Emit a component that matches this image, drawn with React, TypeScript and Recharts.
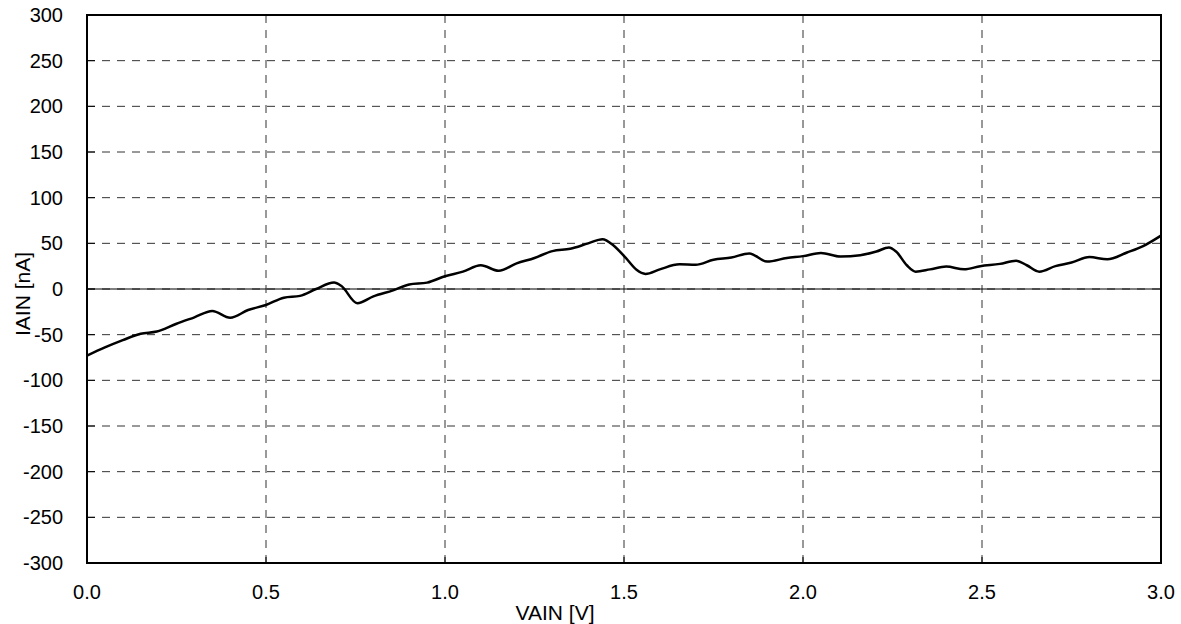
import React from 'react';
import {
  LineChart,
  Line,
  XAxis,
  YAxis,
  CartesianGrid,
  ReferenceLine,
  ReferenceArea,
} from 'recharts';

const vain = [
  0.0, 0.05, 0.1, 0.15, 0.195, 0.25, 0.3, 0.35, 0.4, 0.45, 0.5, 0.55, 0.595, 0.64, 0.69, 0.71,
  0.755, 0.8, 0.855, 0.9, 0.95, 1.0, 1.05, 1.1, 1.15, 1.2, 1.25, 1.3, 1.35, 1.4, 1.44, 1.47,
  1.505, 1.535, 1.56, 1.6, 1.655, 1.7, 1.75, 1.8, 1.85, 1.9, 1.955, 2.0, 2.05, 2.105, 2.16,
  2.205, 2.24, 2.26, 2.29, 2.315, 2.355, 2.4, 2.45, 2.495, 2.55, 2.595, 2.625, 2.66, 2.705,
  2.75, 2.8, 2.85, 2.905, 2.95, 3.0,
];
const iain = [
  -73, -64, -56, -49, -46.5, -38, -31, -24, -31.5, -23, -17.5, -9.5, -7.5, 0, 7, 3.5,
  -15.5, -8, -1.5, 5, 7, 14, 19, 26, 20, 28, 34, 41.5, 44, 50, 54.5, 48,
  34, 21, 16.5, 21.5, 27, 26.5, 32, 34.5, 39, 30, 34, 36, 39.5, 35.5, 37,
  41, 45.5, 41, 26, 19, 21.5, 24.5, 21.5, 25, 27.5, 31, 26, 19, 25,
  29, 35, 32.5, 40, 47, 58.5,
];

const xTicks = [0, 0.5, 1.0, 1.5, 2.0, 2.5, 3.0];
const yTicks = [-300, -250, -200, -150, -100, -50, 0, 50, 100, 150, 200, 250, 300];

const data = vain.map((v, i) => ({ v, i: iain[i] }));

const FONT = '"Liberation Sans", Arial, sans-serif';

export default function App() {
  return (
    <div style={{ position: 'absolute', left: 0, top: 0, width: 1181, height: 624, background: '#fff' }}>
      <LineChart
        width={1181}
        height={624}
        data={data}
        margin={{ top: 15, right: 20, left: 27, bottom: 21 }}
        style={{ fontFamily: FONT }}
      >
        <CartesianGrid stroke="#333" strokeDasharray="8 7" strokeWidth={1} />
        <XAxis
          dataKey="v"
          type="number"
          domain={[0, 3]}
          ticks={xTicks}
          tickFormatter={(t: number) => t.toFixed(1)}
          height={40}
          axisLine={{ stroke: '#000', strokeWidth: 2 }}
          tickLine={{ stroke: '#000' }}
          tickSize={-6}
          tickMargin={28}
          tick={{ fill: '#000', fontSize: 20, fontFamily: FONT }}
          label={{
            content: (p: any) => {
              const vb = p.viewBox;
              return (
                <text
                  x={vb.x + vb.width / 2 - 69}
                  y={vb.y + 49}
                  textAnchor="middle"
                  dominantBaseline="central"
                  fontSize={21}
                  fontFamily={FONT}
                  fill="#000"
                >
                  VAIN [V]
                </text>
              );
            },
          }}
        />
        <YAxis
          type="number"
          domain={[-300, 300]}
          ticks={yTicks}
          width={60}
          axisLine={{ stroke: '#000', strokeWidth: 2 }}
          tickLine={{ stroke: '#000' }}
          tickSize={-8}
          tickMargin={32}
          tick={{ fill: '#000', fontSize: 20, fontFamily: FONT }}
          label={{
            content: (p: any) => {
              const vb = p.viewBox;
              const cx = vb.x - 5;
              const cy = vb.y + vb.height / 2 + 5;
              return (
                <text
                  x={cx}
                  y={cy}
                  transform={`rotate(-90 ${cx} ${cy})`}
                  textAnchor="middle"
                  dominantBaseline="central"
                  fontSize={21}
                  fontFamily={FONT}
                  fill="#000"
                >
                  IAIN [nA]
                </text>
              );
            },
          }}
        />
        <ReferenceLine y={0} stroke="#000" strokeWidth={1} />
        <ReferenceArea
          x1={0}
          x2={3}
          y1={-300}
          y2={300}
          fill="none"
          fillOpacity={0}
          stroke="#000"
          strokeWidth={2}
          ifOverflow="visible"
        />
        <Line
          type="monotone"
          dataKey="i"
          stroke="#000"
          strokeWidth={2.5}
          dot={false}
          isAnimationActive={false}
        />
      </LineChart>
    </div>
  );
}
